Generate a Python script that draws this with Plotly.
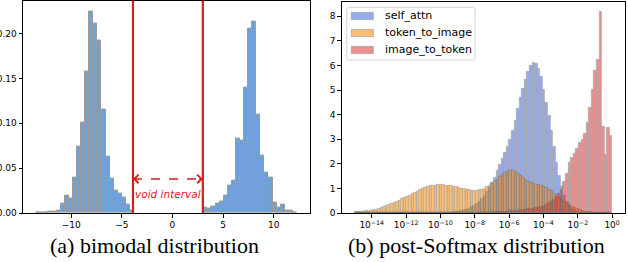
import plotly.graph_objects as go

# ---------------- Panel (a): bimodal distribution ----------------
a_left_start = -13.48
a_left_width = 0.404
a_left_density = [0.0005, 0.0007, 0.001, 0.0015, 0.002, 0.003, 0.010, 0.019,
                  0.016, 0.039, 0.074, 0.101, 0.158, 0.225, 0.211, 0.192,
                  0.1155, 0.063, 0.0385, 0.025, 0.022, 0.0167, 0.0092, 0.003]
a_right_start = 3.05
a_right_width = 0.402
a_right_density = [0.0063, 0.005, 0.007, 0.0107, 0.013, 0.0197, 0.0307, 0.0363,
                   0.083, 0.081, 0.140, 0.206, 0.2137, 0.110, 0.0644, 0.0448,
                   0.0396, 0.0115, 0.006, 0.0095, 0.003, 0.0025, 0.001]
void_interval = [-3.9, 3.0]
arrow_level = 0.038
void_label = "void interval"
void_label_xy = (-0.42, 0.0215)
a_xticks = [-10, -5, 0, 5, 10]
a_xticklabels = ["\u221210", "\u22125", "0", "5", "10"]
a_yticks = [0.0, 0.05, 0.10, 0.15, 0.20]

# ---------------- Panel (b): post-Softmax distribution ----------------
b_log_start = -15.0
b_log_width = 0.15   # 100 log-spaced bins from 1e-15 to 1
self_attn = [0.0] * 36 + [
    0.02, 0.03, 0.04, 0.05, 0.07, 0.09, 0.12, 0.15, 0.19, 0.24,
    0.30, 0.37, 0.46, 0.57, 0.70, 0.85, 1.02, 1.22, 1.45, 1.70,
    1.95, 2.20, 2.45, 2.70, 3.00, 3.35, 3.75, 4.25, 4.70, 5.05,
    5.40, 5.75, 6.00, 6.12, 6.05, 5.85, 5.55, 5.00, 4.50, 3.95,
    3.35, 2.70, 2.05, 1.50, 1.05, 0.70, 0.45, 0.28, 0.16, 0.09,
    0.05, 0.03, 0.01] + [0.0] * 11
token_to_image = [
    0.04, 0.05, 0.06, 0.07, 0.08, 0.10, 0.11, 0.13, 0.15, 0.18,
    0.21, 0.25, 0.29, 0.33, 0.38, 0.42, 0.47, 0.52, 0.57, 0.62,
    0.67, 0.72, 0.78, 0.83, 0.88, 0.93, 0.98, 1.02, 1.06, 1.09,
    1.11, 1.13, 1.14, 1.14, 1.14, 1.13, 1.11, 1.09, 1.07, 1.05,
    1.02, 0.99, 0.97, 0.95, 0.93, 0.92, 0.92, 0.92, 0.93, 0.96,
    1.00, 1.06, 1.13, 1.20, 1.28, 1.37, 1.46, 1.55, 1.63, 1.69,
    1.73, 1.72, 1.66, 1.58, 1.50, 1.42, 1.35, 1.29, 1.24, 1.20,
    1.17, 1.15, 1.12, 1.08, 1.03, 0.96, 0.89, 0.80, 0.71, 0.62,
    0.54, 0.46, 0.39, 0.33, 0.27, 0.21, 0.16, 0.12, 0.09, 0.07,
    0.05, 0.04, 0.03, 0.02, 0.015, 0.01, 0.01, 0.005, 0.005, 0.003]
image_to_token = [0.0] * 45 + [
    0.005, 0.005, 0.01, 0.01, 0.015, 0.02, 0.025, 0.03, 0.035, 0.04,
    0.045, 0.05, 0.06, 0.065, 0.07, 0.08, 0.09, 0.10, 0.11, 0.12,
    0.13, 0.14, 0.155, 0.17, 0.185, 0.20, 0.22, 0.24, 0.27, 0.33,
    0.40, 0.47, 0.56, 0.67, 0.80, 0.96, 1.27, 1.61, 2.04, 2.26,
    2.42, 2.62, 2.85, 2.96, 3.23, 3.66, 4.28, 5.00, 5.79, 6.22,
    8.18, 3.50, 2.38, 3.47, 3.16]
series_names = ["self_attn", "token_to_image", "image_to_token"]
b_xticks = [-14, -12, -10, -8, -6, -4, -2, 0]
b_xticklabels = ["10<sup>\u221214</sup>", "10<sup>\u221212</sup>", "10<sup>\u221210</sup>",
                 "10<sup>\u22128</sup>", "10<sup>\u22126</sup>", "10<sup>\u22124</sup>",
                 "10<sup>\u22122</sup>", "10<sup>0</sup>"]
b_yticks = [0, 1, 2, 3, 4, 5, 6, 7, 8]
captions = ["(a) bimodal distribution", "(b) post-Softmax distribution"]

assert len(self_attn) == 100 and len(token_to_image) == 100 and len(image_to_token) == 100

W, H = 628, 262
FONT = "DejaVu Sans"
RED = "#d91c1c"

def centers(start, width, n):
    return [start + width * (i + 0.5) for i in range(n)]

def px(x):
    return x / W

def py(y):
    return 1 - y / H

fig = go.Figure()

# Panel (a) bars
for start, width, vals in [(a_left_start, a_left_width, a_left_density),
                           (a_right_start, a_right_width, a_right_density)]:
    fig.add_trace(go.Bar(
        x=centers(start, width, len(vals)), y=vals, width=width,
        marker=dict(color="#6fa1d8", line=dict(color="rgb(155,155,155)", width=1)),
        showlegend=False, xaxis="x", yaxis="y"))

# dashed double arrow
fig.add_trace(go.Scatter(
    x=void_interval, y=[arrow_level, arrow_level], mode="lines",
    line=dict(color=RED, width=1.5, dash="dash"),
    showlegend=False, xaxis="x", yaxis="y", hoverinfo="skip"))

# Panel (b) bars
colors = ["rgb(65,105,225)", "rgb(255,140,0)", "rgb(222,50,50)"]
OPA = 0.55
EDGE = "rgb(90,90,90)"
nb = len(self_attn)
bx = centers(b_log_start, b_log_width, nb)
for name, vals, col in zip(series_names, [self_attn, token_to_image, image_to_token], colors):
    fig.add_trace(go.Bar(
        x=bx, y=vals, width=b_log_width, name=name, opacity=OPA,
        marker=dict(color=col, line=dict(color=EDGE, width=0.7)),
        showlegend=False, xaxis="x2", yaxis="y2"))

axis_common = dict(showline=True, mirror=True, linecolor="black", linewidth=1,
                   ticks="outside", ticklen=3.5, tickwidth=1, tickcolor="black",
                   showgrid=False, zeroline=False, automargin=False,
                   tickfont=dict(family=FONT, size=9, color="black"))

shapes = [dict(type="line", xref="x", yref="y domain", x0=v, x1=v, y0=0, y1=1,
               line=dict(color=RED, width=2.2)) for v in void_interval]

# legend (drawn in the style of the reference)
L, R, T, B, r = 346.7, 475.0, 7.3, 60.0, 2.5
frame = (f"M {px(L + r)},{py(T)} L {px(R - r)},{py(T)} Q {px(R)},{py(T)} {px(R)},{py(T + r)} "
         f"L {px(R)},{py(B - r)} Q {px(R)},{py(B)} {px(R - r)},{py(B)} "
         f"L {px(L + r)},{py(B)} Q {px(L)},{py(B)} {px(L)},{py(B - r)} "
         f"L {px(L)},{py(T + r)} Q {px(L)},{py(T)} {px(L + r)},{py(T)} Z")
shapes.append(dict(type="path", xref="paper", yref="paper", path=frame,
                   fillcolor="rgba(255,255,255,0.8)", line=dict(color="#d4d4d4", width=1)))
row_y = [16.0, 33.0, 50.0]
for ry, col in zip(row_y, colors):
    shapes.append(dict(type="rect", xref="paper", yref="paper",
                       x0=px(351.3), x1=px(373.3), y0=py(ry - 3.6), y1=py(ry + 3.6),
                       fillcolor=col, opacity=OPA, line=dict(color=EDGE, width=0.8)))

ybot = 1 - 213 / H
fig.update_layout(
    width=W, height=H, margin=dict(l=0, r=0, t=0, b=0, autoexpand=False),
    paper_bgcolor="white", plot_bgcolor="white",
    barmode="overlay", bargap=0, showlegend=False,
    xaxis=dict(domain=[23 / W, 310 / W], range=[-14.77, 13.59],
               tickvals=a_xticks, ticktext=a_xticklabels, anchor="y", **axis_common),
    yaxis=dict(domain=[ybot, 1 - 0.6 / H], range=[0, 0.2369],
               tickvals=a_yticks, tickformat=".2f", anchor="x", **axis_common),
    xaxis2=dict(domain=[341.7 / W, 625 / W], range=[-15.75, 0.75],
                tickvals=b_xticks, ticktext=b_xticklabels, anchor="y2", **axis_common),
    yaxis2=dict(domain=[ybot, 1 - 1.7 / H], range=[0, 8.59],
                tickvals=b_yticks, anchor="x2", **axis_common),
    shapes=shapes,
)

for ry, name in zip(row_y, series_names):
    fig.add_annotation(x=px(382.5), y=py(ry), xref="paper", yref="paper", text=name,
                       showarrow=False, xanchor="left", yanchor="middle",
                       font=dict(family=FONT, size=11, color="black"))

# arrow heads
for head, tail_dir in [(void_interval[0], 1), (void_interval[1], -1)]:
    fig.add_annotation(x=head, y=arrow_level, ax=head + tail_dir * 0.5, ay=arrow_level,
                       xref="x", yref="y", axref="x", ayref="y", text="",
                       showarrow=True, arrowhead=4, arrowsize=1.1, arrowwidth=1.5,
                       arrowcolor=RED, standoff=0)

fig.add_annotation(x=void_label_xy[0], y=void_label_xy[1], xref="x", yref="y",
                   text="<i>" + void_label + "</i>", showarrow=False,
                   font=dict(family=FONT, size=10.5, color=RED))

# captions
for txt, cx in zip(captions, [154, 476]):
    fig.add_annotation(x=cx / W, y=1 - 245 / H, xref="paper", yref="paper",
                       text=txt, showarrow=False, xanchor="center", yanchor="middle",
                       font=dict(family="Liberation Serif", size=22, color="black"))

fig.write_html("out.html", config={"displayModeBar": False},
               post_script="document.body.style.margin='0';document.body.style.overflow='hidden';")
